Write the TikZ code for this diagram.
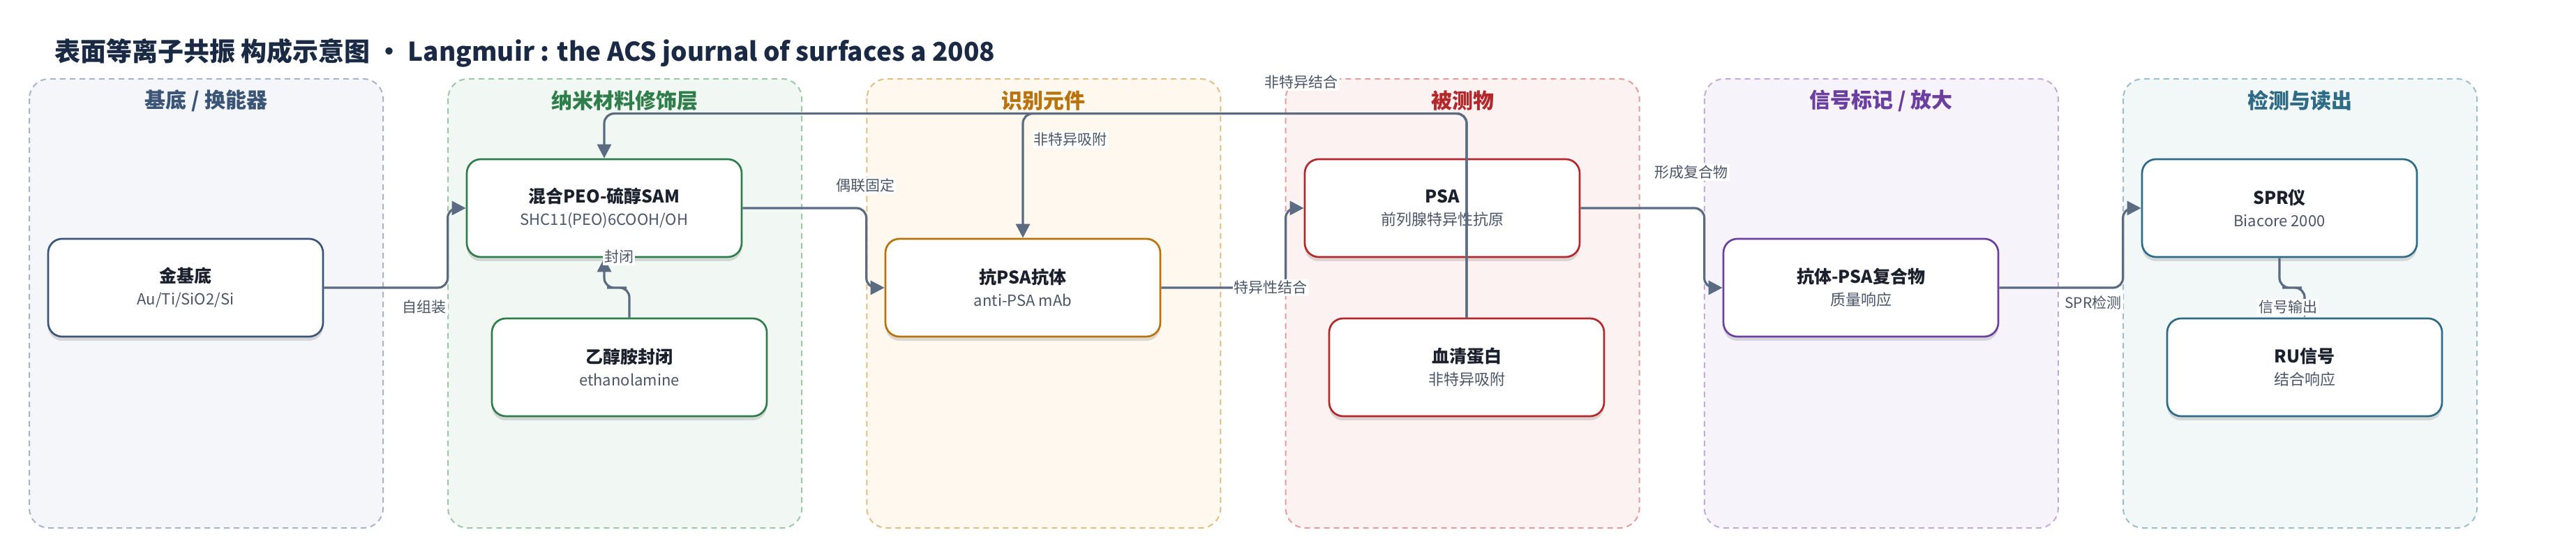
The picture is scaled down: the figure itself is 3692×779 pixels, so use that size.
\documentclass[tikz,border=0pt]{standalone}
\usepackage{fontspec}
\setmainfont{Noto Sans CJK SC}
\usetikzlibrary{arrows.meta,calc,shadows}

\definecolor{inkTitle}{HTML}{1B2A44}
\definecolor{inkNode}{HTML}{1A202C}
\definecolor{inkSub}{HTML}{4A5568}
\definecolor{edgeCol}{HTML}{5A6B82}
% lane colours: fill / dash / accent
\definecolor{fillA}{HTML}{F4F6FA}\definecolor{dashA}{HTML}{A7B4C8}\definecolor{accA}{HTML}{3B5577}
\definecolor{fillB}{HTML}{F1F8F3}\definecolor{dashB}{HTML}{9CC8A8}\definecolor{accB}{HTML}{2E7D4A}
\definecolor{fillC}{HTML}{FEF8EE}\definecolor{dashC}{HTML}{E2BE84}\definecolor{accC}{HTML}{B8730C}
\definecolor{fillD}{HTML}{FDF2F2}\definecolor{dashD}{HTML}{E59C9C}\definecolor{accD}{HTML}{B3282B}
\definecolor{fillE}{HTML}{F7F3FB}\definecolor{dashE}{HTML}{C3AADC}\definecolor{accE}{HTML}{6B3FA0}
\definecolor{fillF}{HTML}{F2F7F8}\definecolor{dashF}{HTML}{9DBFCC}\definecolor{accF}{HTML}{2E6B86}

\newcommand{\colStep}{600.2}
\newcommand{\laneLeft}{42}
\newcommand{\laneWidth}{507}
\newcommand{\laneTop}{113}
\newcommand{\laneBottom}{756}
\newcommand{\rowMain}{298}
\newcommand{\rowMid}{412}
\newcommand{\rowLow}{526}
\newcommand{\cardText}[2]{{\fontsize{12.5}{15}\selectfont\bfseries\color{inkNode}#1}\\[4pt]{\fontsize{11}{13}\selectfont\color{inkSub}#2}}

\begin{document}
\begin{tikzpicture}[x=0.5pt,y=-0.5pt,
    lane/.style={draw=dash#1, fill=fill#1, dash pattern=on 4pt off 3pt, line width=1pt, rounded corners=14pt},
    laneHead/.style={text=acc#1, font=\fontsize{15}{18}\selectfont\bfseries, inner sep=0pt},
    card/.style={draw=#1, line width=1.35pt, fill=white, rounded corners=10pt, minimum width=197pt, minimum height=70pt, align=center, inner sep=2pt,
        drop shadow={shadow xshift=0pt, shadow yshift=-3pt, opacity=0.13, fill=black}},
    flow/.style={draw=edgeCol, line width=1.6pt, rounded corners=7pt, -{Triangle[length=10pt,width=10pt]}},
    flowTag/.style={fill=white, text=inkSub, font=\fontsize{10.5}{12}\selectfont, inner sep=1pt}]
  \useasboundingbox (0,0) rectangle (3692,779);

  \node[anchor=west, text=inkTitle, font=\fontsize{18.5}{22}\selectfont\bfseries, inner sep=0pt] (title) at (78,76)
    {表面等离子共振 构成示意图 · Langmuir : the ACS journal of surfaces a 2008};

  % lanes
  \foreach \k/\g/\name in {0/A/{基底 / 换能器},1/B/纳米材料修饰层,2/C/识别元件,3/D/被测物,4/E/{信号标记 / 放大},5/F/检测与读出}{
    \draw[lane=\g] ({\laneLeft+\k*\colStep},\laneTop) rectangle ++(\laneWidth,{\laneBottom-\laneTop});
    \node[laneHead=\g] (head\g) at ({\laneLeft+\k*\colStep+\laneWidth/2},144) {\name};
  }

  % cards
  \node[card=accA] (gold) at (266,\rowMid) {\cardText{金基底}{Au/Ti/SiO2/Si}};
  \node[card=accB] (sam) at (866,\rowMain) {\cardText{混合PEO-硫醇SAM}{SHC11(PEO)6COOH/OH}};
  \node[card=accB] (eta) at (902,\rowLow) {\cardText{乙醇胺封闭}{ethanolamine}};
  \node[card=accC] (mab) at (1466,\rowMid) {\cardText{抗PSA抗体}{anti-PSA mAb}};
  \node[card=accD] (psa) at (2067,\rowMain) {\cardText{PSA}{前列腺特异性抗原}};
  \node[card=accD] (serum) at (2102,\rowLow) {\cardText{血清蛋白}{非特异吸附}};
  \node[card=accE] (cplx) at (2667,\rowMid) {\cardText{抗体-PSA复合物}{质量响应}};
  \node[card=accF] (spr) at (3267,\rowMain) {\cardText{SPR仪}{Biacore 2000}};
  \node[card=accF] (ru) at (3303,\rowLow) {\cardText{RU信号}{结合响应}};

  % connectors
  \draw[flow] (gold.east) -| ($(sam.west)+(-26,0)$) -- (sam.west);
  \draw[flow] (sam.east) -| ($(mab.west)+(-26,0)$) -- (mab.west);
  \draw[flow] (mab.east) -| ($(psa.west)+(-26,0)$) -- (psa.west);
  \draw[flow] (psa.east) -| ($(cplx.west)+(-26,0)$) -- (cplx.west);
  \draw[flow] (cplx.east) -| ($(spr.west)+(-26,0)$) -- (spr.west);
  \draw[flow] (eta.north) |- ($(eta.north)!0.5!(sam.south)$) -| (sam.south);
  \draw[flow] (spr.south) |- ($(spr.south)!0.5!(ru.north)$) -| (ru.north);
  \draw[flow] (serum.north) |- ($(sam.north)+(0,-64)$) -- (sam.north);
  \draw[flow] (serum.north) |- ($(mab.north)+(0,-178)$) -- (mab.north);

  % connector labels
  \node[flowTag] (tSelf) at (608,440) {自组装};
  \node[flowTag] (tCouple) at (1240,266) {偶联固定};
  \node[flowTag] (tSpec) at (1821,412) {特异性结合};
  \node[flowTag] (tForm) at (2424,247) {形成复合物};
  \node[flowTag] (tSpr) at (3000,433) {SPR检测};
  \node[flowTag] (tBlock) at (887,368) {封闭};
  \node[flowTag] (tOut) at (3279,440) {信号输出};
  \node[flowTag] (tAds) at (1534,200) {非特异吸附};
  \node[flowTag] (tBind) at (1865,118) {非特异结合};
\end{tikzpicture}
\end{document}
